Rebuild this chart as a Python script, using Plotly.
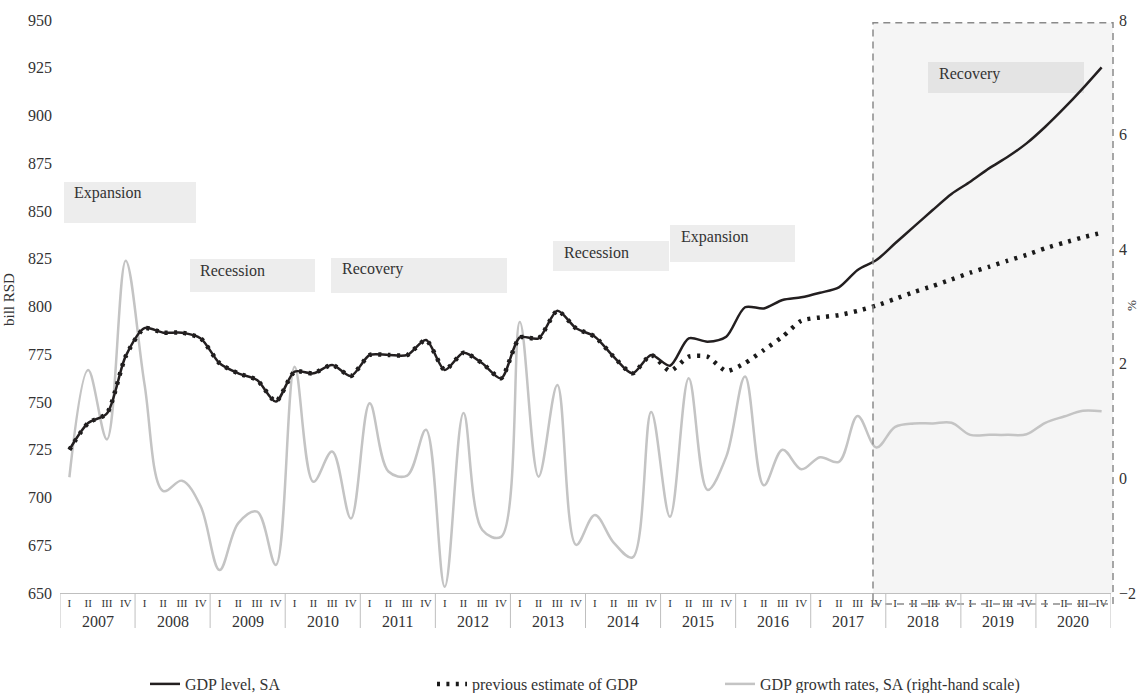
import plotly.graph_objects as go

# ---------------- data ----------------
years = [str(y) for y in range(2007, 2021)]
quarter_names = ["I", "II", "III", "IV"]
quarter_labels = quarter_names * len(years)

# GDP level, SA (bill RSD), quarterly 2007 Q1 - 2020 Q4
gdp_level = [
    725.0, 739.0, 744.0, 774.0,   # 2007
    788.7, 786.3, 786.3, 783.3,   # 2008
    770.3, 765.0, 761.5, 750.2,   # 2009
    765.9, 765.0, 769.4, 763.6,   # 2010
    774.6, 774.6, 774.6, 782.5,   # 2011
    766.8, 775.8, 770.3, 762.4,   # 2012
    783.8, 783.3, 797.8, 788.6,   # 2013
    784.2, 773.7, 765.0, 774.6,   # 2014
    769.0, 783.3, 781.6, 784.2,   # 2015
    799.6, 799.0, 803.4, 804.8,   # 2016
    807.2, 810.0, 819.1, 824.3,   # 2017
    833.1, 841.8, 850.5, 858.9,   # 2018
    865.3, 872.3, 878.4, 885.4,   # 2019
    894.1, 903.8, 914.2, 925.2,   # 2020
]

# previous estimate of GDP (bill RSD)
prev_estimate = gdp_level[:32] + [
    766.2, 773.7, 773.7, 766.2,   # 2015
    770.4, 777.2, 784.2, 792.6,   # 2016
    794.3, 795.5, 797.7, 800.5,   # 2017
    804.0, 807.6, 810.7, 814.2,   # 2018
    817.7, 820.8, 824.0, 827.0,   # 2019
    830.5, 833.4, 836.2, 838.6,   # 2020
]

# GDP growth rates, SA (%), right-hand scale
growth = [
    0.02, 1.89, 0.68, 3.80,       # 2007
    1.65, -0.22, -0.04, -0.49,    # 2008
    -1.60, -0.78, -0.58, -1.51,   # 2009
    1.95, -0.06, 0.47, -0.70,     # 2010
    1.31, 0.12, 0.05, 0.85,       # 2011
    -1.89, 1.14, -0.90, -1.02,    # 2012
    2.73, 0.03, 1.63, -1.16,      # 2013
    -0.64, -1.12, -1.38, 1.16,    # 2014
    -0.67, 1.75, -0.20, 0.38,     # 2015
    1.78, -0.12, 0.50, 0.16,      # 2016
    0.37, 0.29, 1.09, 0.54,       # 2017
    0.90, 0.96, 0.96, 0.97,       # 2018
    0.76, 0.76, 0.76, 0.77,       # 2019
    0.97, 1.08, 1.18, 1.17,       # 2020
]

phase_labels = ["Expansion", "Recession", "Recovery", "Recession", "Expansion", "Recovery"]

# ---------------- layout helpers ----------------
W, H = 1141, 693
L, R, T, B = 60, 30, 20, 100
PW = W - L - R
PH = H - T - B
FONT = "Liberation Serif"
TXT = "#333333"


def px(x):
    return (x - L) / PW


def py(y):
    return (H - B - y) / PH


xq = list(range(len(quarter_labels)))

fig = go.Figure()
fig.add_trace(go.Scatter(
    x=xq, y=growth, name="GDP growth rates, SA (right-hand scale)", mode="lines",
    line=dict(color="#c4c4c4", width=2.5, shape="spline", smoothing=1.0),
    yaxis="y", legend="legend3"))
fig.add_trace(go.Scatter(
    x=xq, y=prev_estimate, name="previous estimate of GDP", mode="lines",
    line=dict(color="#1a1a1a", width=4.5, dash="3px,6.4px", shape="spline", smoothing=0.6),
    yaxis="y2", legend="legend2"))
fig.add_trace(go.Scatter(
    x=xq, y=gdp_level, name="GDP level, SA", mode="lines",
    line=dict(color="#231f20", width=2.5, shape="spline", smoothing=0.8),
    yaxis="y2", legend="legend"))

shapes = []
# shaded forecast region
shapes.append(dict(type="rect", xref="paper", yref="paper",
                   x0=px(873), x1=px(1113), y0=py(593), y1=py(22.7),
                   fillcolor="#f5f5f5", line=dict(width=0), layer="below"))
shapes.append(dict(type="rect", xref="paper", yref="paper",
                   x0=px(873), x1=px(1113), y0=py(604), y1=py(22.7),
                   fillcolor="rgba(0,0,0,0)",
                   line=dict(color="#8a8a8a", width=1.5, dash="7px,5px"), layer="above"))
# year separators below the axis
for k in range(len(years) + 1):
    shapes.append(dict(type="line", xref="x", yref="paper",
                       x0=4 * k - 0.5, x1=4 * k - 0.5, y0=0, y1=py(628),
                       line=dict(color="#bfbfbf", width=1)))

# phase boxes (pixel positions)
boxes = [
    ((64, 182, 196, 223), (72, 193), "#ededed"),
    ((190, 259, 315, 292), (198, 270), "#ededed"),
    ((331, 258, 507, 293), (340, 269), "#ededed"),
    ((553, 241, 669, 271), (562, 252), "#ededed"),
    ((670, 225, 795, 262), (679, 237), "#ededed"),
    ((928, 62, 1084, 93), (937, 74), "#e4e4e4"),
]
annotations = []
for (x0, y0, x1, y1), (tx, ty), col in boxes:
    shapes.append(dict(type="rect", xref="paper", yref="paper",
                       x0=px(x0), x1=px(x1), y0=py(y1), y1=py(y0),
                       fillcolor=col, line=dict(width=0), layer="below"))
for ((_, _, _, _), (tx, ty), _), lab in zip(boxes, phase_labels):
    annotations.append(dict(text=lab, xref="paper", yref="paper", x=px(tx), y=py(ty),
                            xanchor="left", yanchor="middle", showarrow=False,
                            font=dict(family=FONT, size=16, color=TXT)))

# year labels
for k, yr in enumerate(years):
    annotations.append(dict(text=yr, xref="x", yref="paper", x=4 * k + 1.5, y=py(621),
                            xanchor="center", yanchor="middle", showarrow=False,
                            font=dict(family=FONT, size=16, color=TXT)))

annotations.append(dict(text="bill RSD", xref="paper", yref="paper", x=px(9), y=py(300),
                        xanchor="center", yanchor="middle", textangle=-90, showarrow=False,
                        font=dict(family=FONT, size=15, color=TXT)))
annotations.append(dict(text="%", xref="paper", yref="paper", x=px(1131), y=py(306),
                        xanchor="center", yanchor="middle", textangle=-90, showarrow=False,
                        font=dict(family=FONT, size=13, color=TXT)))


def legend_at(xpix):
    return dict(orientation="h", x=px(xpix), y=py(684), xanchor="left", yanchor="middle",
                font=dict(family=FONT, size=16, color=TXT), bgcolor="rgba(0,0,0,0)")


fig.update_layout(
    width=W, height=H,
    margin=dict(l=L, r=R, t=T, b=B, autoexpand=False),
    paper_bgcolor="white", plot_bgcolor="rgba(0,0,0,0)",
    font=dict(family=FONT, color=TXT),
    showlegend=True,
    legend=legend_at(145),
    legend2=legend_at(432),
    legend3=legend_at(720),
    xaxis=dict(range=[-0.5, 55.5], tickmode="array", tickvals=xq, ticktext=quarter_labels,
               tickfont=dict(family=FONT, size=11, color=TXT), showline=True,
               linecolor="#bfbfbf", linewidth=1, showgrid=False, zeroline=False, ticks=""),
    yaxis=dict(range=[-2, 8], tickmode="linear", tick0=-2, dtick=2, side="right",
               showgrid=False, zeroline=False, showline=False, ticks="",
               ticklabelstandoff=7, tickfont=dict(family=FONT, size=16, color=TXT)),
    yaxis2=dict(range=[650, 950], tickmode="linear", tick0=650, dtick=25, side="left",
                overlaying="y", showgrid=False, zeroline=False, showline=False, ticks="",
                ticklabelstandoff=7, tickfont=dict(family=FONT, size=16, color=TXT)),
    shapes=shapes,
    annotations=annotations,
)

fig.write_html("out.html", config={"displayModeBar": False},
               post_script="document.body.style.margin='0px';document.body.style.overflow='hidden';")
